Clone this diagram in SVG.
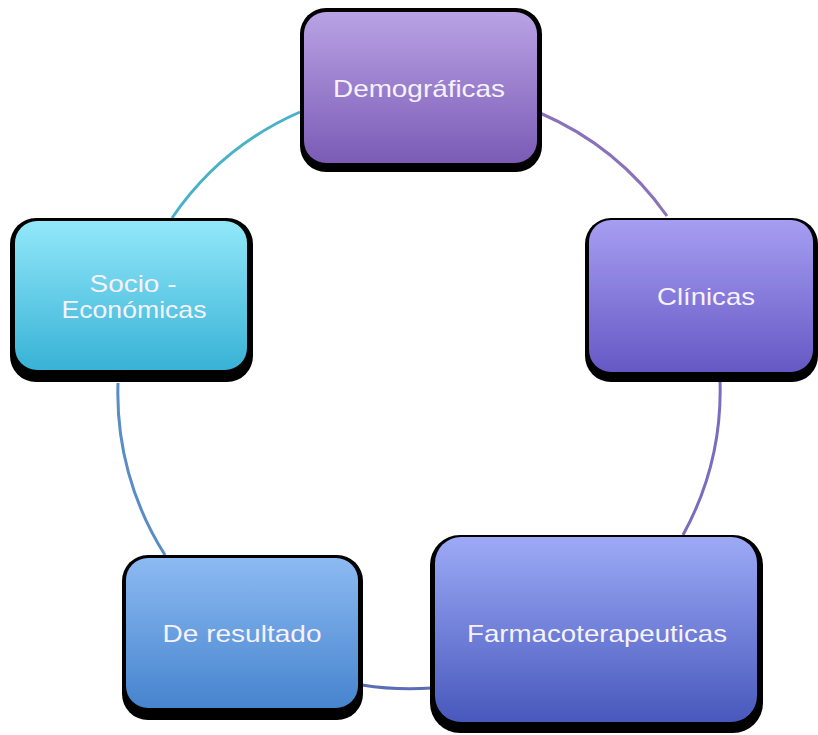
<svg xmlns="http://www.w3.org/2000/svg" width="818" height="735" viewBox="0 0 818 735">
<defs>
<linearGradient id="gDemo" x1="0" y1="0" x2="0" y2="1"><stop offset="0" stop-color="#b9a2e4"/><stop offset="1" stop-color="#7b5bb6"/></linearGradient>
<linearGradient id="gSocio" x1="0" y1="0" x2="0" y2="1"><stop offset="0" stop-color="#92e8f9"/><stop offset="1" stop-color="#38b2d6"/></linearGradient>
<linearGradient id="gClin" x1="0" y1="0" x2="0" y2="1"><stop offset="0" stop-color="#a69ef2"/><stop offset="1" stop-color="#6658c4"/></linearGradient>
<linearGradient id="gRes" x1="0" y1="0" x2="0" y2="1"><stop offset="0" stop-color="#8cbaf2"/><stop offset="1" stop-color="#4684ce"/></linearGradient>
<linearGradient id="gFarm" x1="0" y1="0" x2="0" y2="1"><stop offset="0" stop-color="#9caaf6"/><stop offset="1" stop-color="#4858bc"/></linearGradient>
</defs>
<style>
.sh{fill:#000}
.lbl{font-family:"Liberation Sans",Arial,sans-serif;font-size:24px;fill:#f6f2fc;text-anchor:middle}
.c{fill:none;stroke-width:3}
</style>
<rect width="818" height="735" fill="#fff"/>
<g id="connectors">
<path class="c" stroke="#4ab2c6" d="M172,218 A301,301 0 0 1 300,112"/>
<path class="c" stroke="#8a72b8" d="M540,113 A301,301 0 0 1 667,216"/>
<path class="c" stroke="#7a6cbe" d="M720,380 A301,301 0 0 1 683,535"/>
<path class="c" stroke="#5c6cb6" d="M432,688 A301,301 0 0 1 362,685"/>
<path class="c" stroke="#5a8cc6" d="M165,555 A301,301 0 0 1 118,383"/>
</g>
<g id="demograficas">
<rect class="sh" x="300" y="8" width="242" height="164" rx="26"/>
<rect x="304" y="12" width="233" height="151" rx="22" fill="url(#gDemo)"/>
<text class="lbl" x="419" y="97" textLength="172" lengthAdjust="spacingAndGlyphs">Demográficas</text>
</g>
<g id="socio">
<rect class="sh" x="10" y="218" width="243" height="164" rx="26"/>
<rect x="15" y="221" width="232" height="149" rx="22" fill="url(#gSocio)"/>
<text class="lbl" x="133" y="292" textLength="87" lengthAdjust="spacingAndGlyphs">Socio -</text>
<text class="lbl" x="134" y="318" textLength="145" lengthAdjust="spacingAndGlyphs">Económicas</text>
</g>
<g id="clinicas">
<rect class="sh" x="585" y="218" width="233" height="164" rx="26"/>
<rect x="589" y="220" width="224" height="152" rx="22" fill="url(#gClin)"/>
<text class="lbl" x="706" y="305" textLength="98" lengthAdjust="spacingAndGlyphs">Clínicas</text>
</g>
<g id="resultado">
<rect class="sh" x="122" y="555" width="241" height="165" rx="26"/>
<rect x="126" y="558" width="232" height="150" rx="22" fill="url(#gRes)"/>
<text class="lbl" x="242" y="642" textLength="159" lengthAdjust="spacingAndGlyphs">De resultado</text>
</g>
<g id="farmaco">
<rect class="sh" x="430" y="535" width="333" height="198" rx="30"/>
<rect x="435" y="537" width="322" height="185" rx="26" fill="url(#gFarm)"/>
<text class="lbl" x="597" y="642" textLength="260" lengthAdjust="spacingAndGlyphs">Farmacoterapeuticas</text>
</g>
</svg>
